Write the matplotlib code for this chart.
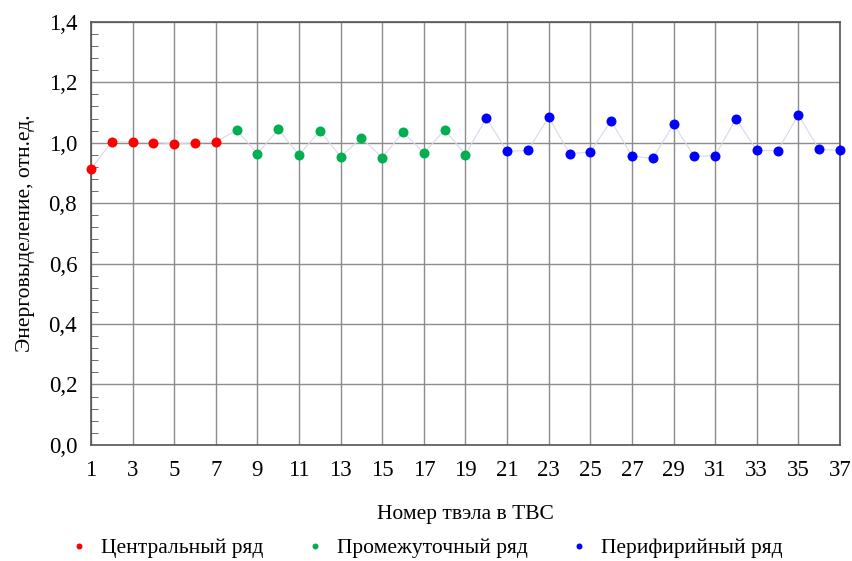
import matplotlib
matplotlib.use("Agg")
import matplotlib.pyplot as plt
from matplotlib.ticker import MultipleLocator, FixedLocator, FuncFormatter

plt.rcParams['font.family'] = ['Liberation Serif', 'DejaVu Serif']

# рядами твэлов: центральный, промежуточный, периферийный
central_x = [1, 2, 3, 4, 5, 6, 7]
central_y = [0.913, 1.004, 1.001, 1.000, 0.997, 0.999, 1.003]

middle_x = [8, 9, 10, 11, 12, 13, 14, 15, 16, 17, 18, 19]
middle_y = [1.041, 0.964, 1.044, 0.960, 1.039, 0.954, 1.016, 0.951, 1.035, 0.966, 1.042, 0.961]

outer_x = list(range(20, 38))
outer_y = [1.082, 0.971, 0.975, 1.084, 0.964, 0.969, 1.073, 0.956, 0.948,
           1.061, 0.955, 0.957, 1.079, 0.975, 0.973, 1.092, 0.978, 0.975]

x_ticks = list(range(1, 38, 2))

labels = ['Центральный ряд', 'Промежуточный ряд', 'Перифирийный ряд']
colors = ['#ff0000', '#00b050', '#0000ff']

fig = plt.figure(figsize=(8.53, 5.61), dpi=100)
ax = fig.add_axes([0.1067, 0.207, 0.878, 0.754])

all_x = central_x + middle_x + outer_x
all_y = central_y + middle_y + outer_y
ax.plot(all_x, all_y, color='#d8d8ec', lw=0.8, zorder=2, clip_on=False)

for xs, ys, c, lab in zip([central_x, middle_x, outer_x], [central_y, middle_y, outer_y], colors, labels):
    ax.plot(xs, ys, 'o', color=c, ms=7.2, mec='none', label=lab, zorder=3, clip_on=False)

ax.set_xlim(1, 37)
ax.set_ylim(0, 1.4)
ax.xaxis.set_major_locator(FixedLocator(x_ticks))
ax.yaxis.set_major_locator(MultipleLocator(0.2))
ax.yaxis.set_minor_locator(MultipleLocator(0.04))
ax.yaxis.set_major_formatter(FuncFormatter(lambda v, p: f'{v:.1f}'.replace('.', ',')))

ax.grid(True, which='major', color='#8c8c8c', lw=1.0)
ax.tick_params(axis='both', which='major', labelsize=16.5, length=0)
ax.tick_params(axis='x', which='major', pad=11)
ax.tick_params(axis='y', which='major', pad=10)
ax.tick_params(axis='y', which='minor', direction='in', length=5, color='#555555')
for s in ax.spines.values():
    s.set_color('#555555')
    s.set_linewidth(1.2)

ax.set_xlabel('Номер твэла в ТВС', fontsize=15.5, labelpad=17)
ax.set_ylabel('Энерговыделение, отн.ед.', fontsize=15.5, labelpad=10)

fig.legend(loc='lower center', bbox_to_anchor=(0.5, -0.03), ncol=3, frameon=False,
           fontsize=15.5, markerscale=0.6, handlelength=0.8, handletextpad=0.6, columnspacing=2.0)

fig.savefig('out.png', dpi=100)
